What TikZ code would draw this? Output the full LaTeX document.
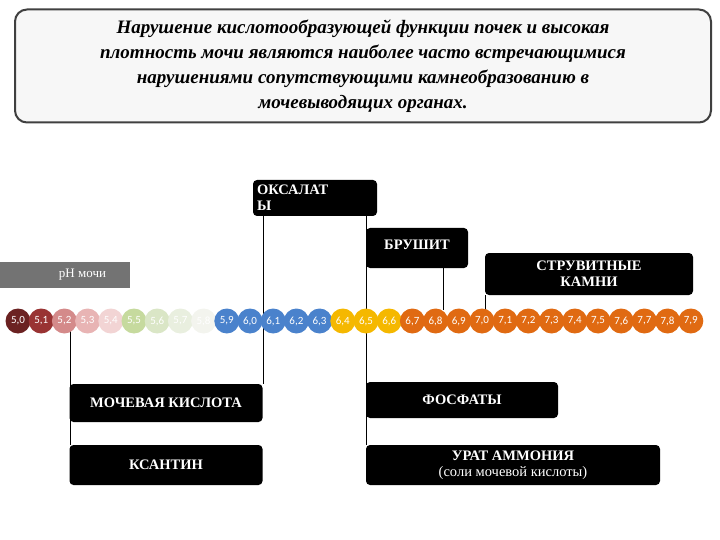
\documentclass[tikz,border=0pt]{standalone}
\usepackage{fontspec}
\setmainfont{Liberation Serif}
\newfontfamily\sansf{Carlito}
\begin{document}
\begin{tikzpicture}[x=1pt,y=-1pt,
  blk/.style={fill=black,rounded corners=4pt,text=white,font=\bfseries\fontsize{14.5}{16}\selectfont,inner sep=0pt},
  ln/.style={black,line width=0.6pt},
  ph/.style={circle,minimum size=25pt,inner sep=0pt,text=white,font=\sansf\fontsize{11}{12}\selectfont}]
\useasboundingbox (0,0) rectangle (720,540);
\node[draw=black!75,line width=2pt,fill=black!3,rounded corners=12pt,minimum width=696pt,minimum height=113pt,align=center,font=\bfseries\itshape\fontsize{19}{25}\selectfont] (title) at (363,66)
 {Нарушение кислотообразующей функции почек и высокая\\плотность мочи являются наиболее часто встречающимися\\нарушениями сопутствующими камнеобразованию в\\мочевыводящих органах.};
% lines
\coordinate (l1t) at (263,216); \coordinate (l1b) at (263,384);
\coordinate (l2t) at (366,216); \coordinate (l2b) at (366,445);
\coordinate (l3t) at (443,268); \coordinate (l3b) at (443,310);
\coordinate (l4t) at (485,295); \coordinate (l4b) at (485,310);
\coordinate (l5t) at (70,330); \coordinate (l5b) at (70,445);
\draw[ln] (l1t)--(l1b); \draw[ln] (l2t)--(l2b); \draw[ln] (l3t)--(l3b);
\draw[ln] (l4t)--(l4b); \draw[ln] (l5t)--(l5b);
% circles
\foreach \i/\c/\t in {0/6B2222/{5,0},1/993333/{5,1},2/D48A8A/{5,2},3/E8B4B4/{5,3},4/F2D4D4/{5,4},5/C6DA9E/{5,5},6/DAE6C6/{5,6},7/E9EFDF/{5,7},8/F3F4EE/{5,8},9/4A82CC/{5,9},10/4A82CC/{6,0},11/4A82CC/{6,1},12/4A82CC/{6,2},13/4A82CC/{6,3},14/F5B800/{6,4},15/F5B800/{6,5},16/F5B800/{6,6},17/E06A12/{6,7},18/E06A12/{6,8},19/E06A12/{6,9},20/E06A12/{7,0},21/E06A12/{7,1},22/E06A12/{7,2},23/E06A12/{7,3},24/E06A12/{7,4},25/E06A12/{7,5},26/E06A12/{7,6},27/E06A12/{7,7},28/E06A12/{7,8},29/E06A12/{7,9}}{
  \definecolor{cc}{HTML}{\c}
  \node[ph,fill=cc] (p\i) at (18+23.2*\i,321) {\t};
}
\node[fill=black!55,minimum width=130pt,minimum height=26pt,inner sep=0pt,text=white,font=\fontsize{13}{14}\selectfont] (ph) at (65,275) {\hspace*{35pt}pH мочи};
\node[blk,minimum width=124pt,minimum height=36pt,align=left,text width=116pt] (oks) at (315,198) {ОКСАЛАТ\\Ы};
\node[blk,minimum width=102pt,minimum height=40pt] (bru) at (417,248) {\raisebox{6pt}{БРУШИТ}};
\node[blk,minimum width=208pt,minimum height=42pt,align=center] (str) at (589,274) {СТРУВИТНЫЕ\\КАМНИ};
\node[blk,minimum width=193pt,minimum height=38pt] (moch) at (166,403) {МОЧЕВАЯ КИСЛОТА};
\node[blk,minimum width=193pt,minimum height=40pt] (ksa) at (166,465) {КСАНТИН};
\node[blk,minimum width=192pt,minimum height=36pt] (fos) at (462,400) {ФОСФАТЫ};
\node[blk,minimum width=294pt,minimum height=40pt,align=center] (ura) at (513,465) {УРАТ АММОНИЯ\\{\mdseries(соли мочевой кислоты)}};
\end{tikzpicture}
\end{document}
